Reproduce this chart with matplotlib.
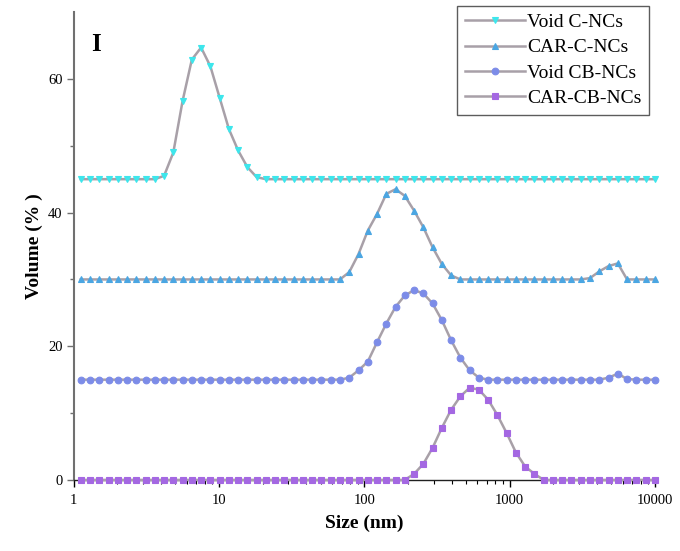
import numpy as np
import matplotlib
matplotlib.use("Agg")
import matplotlib.pyplot as plt
from matplotlib.ticker import FixedLocator, NullFormatter

plt.rcParams['font.family'] = ['Liberation Serif', 'DejaVu Serif']

# Size classes (nm)
sizes = [1.117, 1.294, 1.499, 1.736, 2.010, 2.328, 2.696, 3.122, 3.615, 4.187,
         4.849, 5.615, 6.503, 7.531, 8.721, 10.10, 11.70, 13.54, 15.69, 18.17,
         21.04, 24.36, 28.21, 32.67, 37.84, 43.82, 50.75, 58.77, 68.06, 78.82,
         91.28, 105.7, 122.4, 141.8, 164.2, 190.1, 220.2, 255.0, 295.3, 342.0,
         396.1, 458.7, 531.2, 615.1, 712.4, 825.0, 955.4, 1106, 1281, 1484,
         1718, 1990, 2305, 2669, 3091, 3580, 4145, 4801, 5560, 6439,
         7456, 8635, 10000]

void_c = [45, 45, 45, 45, 45, 45, 45, 45, 45, 45.5,
          49.0, 56.7, 62.9, 64.7, 61.9, 57.2, 52.5, 49.3, 46.8, 45.3,
          45, 45, 45, 45, 45, 45, 45, 45, 45, 45,
          45, 45, 45, 45, 45, 45, 45, 45, 45, 45,
          45, 45, 45, 45, 45, 45, 45, 45, 45, 45,
          45, 45, 45, 45, 45, 45, 45, 45, 45, 45,
          45, 45, 45]

car_c = [30, 30, 30, 30, 30, 30, 30, 30, 30, 30,
         30, 30, 30, 30, 30, 30, 30, 30, 30, 30,
         30, 30, 30, 30, 30, 30, 30, 30, 30, 31.1,
         33.8, 37.3, 39.8, 42.8, 43.5, 42.5, 40.3, 37.8, 34.8, 32.3,
         30.6, 30, 30, 30, 30, 30, 30, 30, 30, 30,
         30, 30, 30, 30, 30, 30.2, 31.2, 32.0, 32.4, 30,
         30, 30, 30]

void_cb = [15, 15, 15, 15, 15, 15, 15, 15, 15, 15,
           15, 15, 15, 15, 15, 15, 15, 15, 15, 15,
           15, 15, 15, 15, 15, 15, 15, 15, 15, 15.3,
           16.4, 17.7, 20.6, 23.4, 25.9, 27.6, 28.4, 27.9, 26.4, 23.9,
           20.9, 18.3, 16.4, 15.3, 15, 15, 15, 15, 15, 15,
           15, 15, 15, 15, 15, 15, 15, 15.3, 15.9, 15.1,
           15, 15, 15]

car_cb = [0, 0, 0, 0, 0, 0, 0, 0, 0, 0,
          0, 0, 0, 0, 0, 0, 0, 0, 0, 0,
          0, 0, 0, 0, 0, 0, 0, 0, 0, 0,
          0, 0, 0, 0, 0, 0, 0.9, 2.4, 4.8, 7.8,
          10.5, 12.5, 13.8, 13.5, 12.0, 9.7, 7.0, 4.1, 2.0, 0.9,
          0, 0, 0, 0, 0, 0, 0, 0, 0, 0,
          0, 0, 0]

labels = ['Void C-NCs', 'CAR-C-NCs', 'Void CB-NCs', 'CAR-CB-NCs']
series = [void_c, car_c, void_cb, car_cb]
colors = ['#3DE6EC', '#4BA6E2', '#7C8CE8', '#A468E2']
markers = ['v', '^', 'o', 's']

x_ticks = [1, 10, 100, 1000, 10000]
x_ticklabels = ['1', '10', '100', '1000', '10000']
y_ticks = [0, 20, 40, 60]

fig = plt.figure(figsize=(6.8, 5.51), dpi=100)
ax = fig.add_axes([0.1084, 0.129, 0.8546, 0.849])

for vals, lab, col, mk in zip(series, labels, colors, markers):
    ax.plot(sizes, vals, color='#A8A0A8', lw=1.8, marker=mk, ms=4.8,
            mfc=col, mec=col, mew=0.8, label=lab, clip_on=False, zorder=3)

ax.set_xscale('log')
ax.set_xlim(1, 10000)
ax.set_ylim(0, 70)
ax.set_xticks(x_ticks)
ax.set_xticklabels(x_ticklabels)
ax.xaxis.set_minor_locator(FixedLocator(
    [m * 10 ** d for d in range(0, 4) for m in range(2, 10)]))
ax.xaxis.set_minor_formatter(NullFormatter())
ax.set_yticks(y_ticks)
ax.yaxis.set_minor_locator(FixedLocator([10, 30, 50]))

for s in ['top', 'right']:
    ax.spines[s].set_visible(False)
ax.spines['left'].set_color('#707070')
ax.spines['left'].set_linewidth(1.5)
ax.spines['bottom'].set_color('#202020')
ax.spines['bottom'].set_linewidth(1.0)

ax.tick_params(axis='y', which='major', direction='out', length=5, width=1,
               color='#707070', labelsize=10.5, pad=3)
ax.tick_params(axis='y', which='minor', direction='out', length=3, width=1,
               color='#707070')
ax.tick_params(axis='x', which='major', direction='out', length=5, width=1,
               labelsize=10.5, pad=5)
ax.tick_params(axis='x', which='minor', direction='out', length=3, width=0.8)

ax.set_xlabel('Size (nm)', fontsize=14, fontweight='bold', labelpad=6)
ax.set_ylabel('Volume (% )', fontsize=14, fontweight='bold', labelpad=4)

ax.text(0.03, 0.955, 'I', transform=ax.transAxes, fontsize=18,
        fontweight='bold', va='top', ha='left')

leg = ax.legend(loc='upper right', bbox_to_anchor=(0.997, 1.022), fontsize=14,
                frameon=True, fancybox=False, edgecolor='#333333',
                handlelength=3.1, handletextpad=0.1, borderpad=0.4,
                labelspacing=0.4, borderaxespad=0.2)
leg.get_frame().set_linewidth(1.0)

fig.savefig('out.png', dpi=100)
